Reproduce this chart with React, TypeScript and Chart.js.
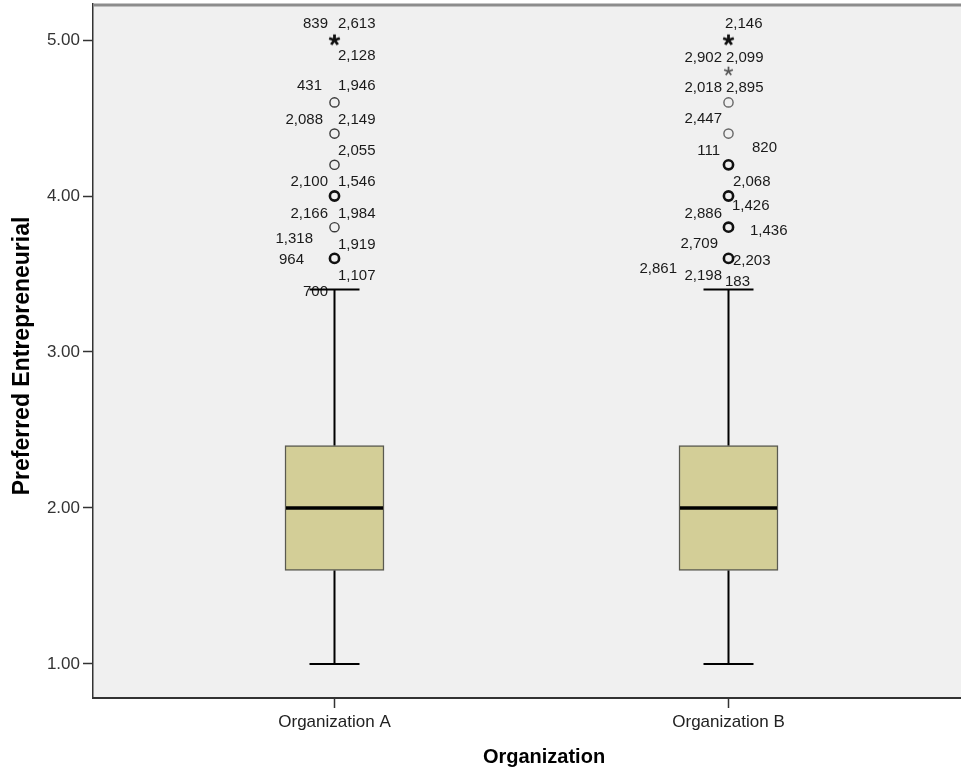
import { useEffect, useRef } from 'react';
import { Chart, registerables } from 'chart.js';

Chart.register(...registerables);

// ---------- data ----------
const categories = ['Organization A', 'Organization B'];
const whiskerLow = [1.0, 1.0];
const q1 = [1.6, 1.6];
const medians = [2.0, 2.0];
const q3 = [2.4, 2.4];
const whiskerHigh = [3.4, 3.4];
const yTickValues = [1, 2, 3, 4, 5];

// outliers (circles) and extremes (stars); "multi" = several cases at the value
const singleOutliersA = [4.6, 4.4, 4.2, 3.8];
const multiOutliersA = [4.0, 3.6];
const singleOutliersB = [4.6, 4.4];
const multiOutliersB = [4.2, 4.0, 3.8, 3.6];
const singleExtremesA: number[] = [];
const multiExtremesA = [5.0];
const singleExtremesB = [4.8];
const multiExtremesB = [5.0];

// case labels
const caseIdsA = ['839', '2,613', '2,128', '431', '1,946', '2,088', '2,149', '2,055', '2,100', '1,546', '2,166', '1,984', '1,318', '1,919', '964', '1,107', '700'];
const caseValuesA = [5.0, 5.0, 5.0, 4.6, 4.6, 4.4, 4.4, 4.2, 4.0, 4.0, 3.8, 3.8, 3.6, 3.6, 3.6, 3.6, 3.4];
const caseIdsB = ['2,146', '2,902', '2,099', '2,018', '2,895', '2,447', '111', '820', '2,068', '1,426', '2,886', '1,436', '2,709', '2,203', '2,861', '2,198', '183'];
const caseValuesB = [5.0, 4.8, 4.8, 4.6, 4.6, 4.4, 4.2, 4.2, 4.0, 4.0, 3.8, 3.8, 3.6, 3.6, 3.6, 3.6, 3.4];

const xTitle = 'Organization';
const yTitle = 'Preferred Entrepreneurial';

// ---------- layout / style ----------
type Align = 'left' | 'right';
// [dx from point, baseline dy from point, text alignment]
const LABEL_LAYOUT_A: [number, number, Align][] = [
  [-6.5, -12, 'right'], [3.5, -12, 'left'], [3.5, 20, 'left'],
  [-12.5, -12.4, 'right'], [3.5, -12.4, 'left'],
  [-11.5, -9.6, 'right'], [3.5, -9.6, 'left'],
  [3.5, -9.8, 'left'],
  [-6.5, -10, 'right'], [3.5, -10, 'left'],
  [-6.5, -9.2, 'right'], [3.5, -9.2, 'left'],
  [-21.5, -15.4, 'right'], [3.5, -9.4, 'left'], [-30.5, 5.6, 'right'], [3.5, 21.6, 'left'],
  [-6.5, 6.4, 'right'],
];
const LABEL_LAYOUT_B: [number, number, Align][] = [
  [-3.5, -12, 'left'],
  [-6.5, -9.2, 'right'], [-2.5, -9.2, 'left'],
  [-6.5, -10.4, 'right'], [-2.5, -10.4, 'left'],
  [-6.5, -10.6, 'right'],
  [-8.5, -9.8, 'right'], [23.5, -12.8, 'left'],
  [4.5, -10, 'left'], [3.5, 14, 'left'],
  [-6.5, -9.2, 'right'], [21.5, 7.8, 'left'],
  [-10.5, -10.4, 'right'], [4.5, 6.6, 'left'], [-51.5, 14.6, 'right'], [-6.5, 21.6, 'right'],
  [-3.5, -3.6, 'left'],
];

const X_MIN = -0.61294;
const X_MAX = 1.59011;
const Y_MIN = 0.78205;
const Y_MAX = 5.23077;

const FONT = '"Liberation Sans", Arial, Helvetica, sans-serif';
const PLOT_BG = '#f0f0f0';
const BOX_FILL = '#d3ce97';
const BOX_EDGE = '#5a5a50';
const CAP_HALF = 25;

function makeStar(size: number, lw: number, color: string): HTMLCanvasElement {
  const c = document.createElement('canvas');
  const s = Math.ceil(size * 2 + lw * 2 + 2);
  c.width = s;
  c.height = s;
  const ctx = c.getContext('2d')!;
  ctx.strokeStyle = color;
  ctx.lineWidth = lw;
  ctx.lineCap = 'butt';
  ctx.translate(s / 2, s / 2);
  for (let i = 0; i < 5; i++) {
    const a = -Math.PI / 2 + (i * 2 * Math.PI) / 5;
    ctx.beginPath();
    ctx.moveTo(0, 0);
    ctx.lineTo(Math.cos(a) * size, Math.sin(a) * size);
    ctx.stroke();
  }
  return c;
}

const extrasPlugin = {
  id: 'boxExtras',
  beforeDraw(chart: any) {
    const { ctx, chartArea: a } = chart;
    ctx.save();
    ctx.fillStyle = PLOT_BG;
    ctx.fillRect(a.left, a.top, a.right - a.left, a.bottom - a.top);
    ctx.restore();
  },
  afterDatasetsDraw(chart: any) {
    const { ctx, chartArea: a } = chart;
    const xs = chart.scales.x;
    const ys = chart.scales.y;
    const boxMeta = chart.getDatasetMeta(0);

    // case labels
    ctx.save();
    ctx.font = `15px ${FONT}`;
    ctx.fillStyle = '#1a1a1a';
    ctx.textBaseline = 'alphabetic';
    const groups: [string[], number[], [number, number, Align][]][] = [
      [caseIdsA, caseValuesA, LABEL_LAYOUT_A],
      [caseIdsB, caseValuesB, LABEL_LAYOUT_B],
    ];
    groups.forEach(([ids, vals, lay], gi) => {
      const cx = xs.getPixelForValue(gi);
      ids.forEach((id, i) => {
        const cy = ys.getPixelForValue(vals[i]);
        const [dx, dy, al] = lay[i];
        ctx.textAlign = al;
        ctx.fillText(id, cx + dx, cy + dy);
      });
    });
    ctx.restore();

    // whiskers, caps, medians
    ctx.save();
    ctx.strokeStyle = '#000';
    categories.forEach((_, i) => {
      const cx = xs.getPixelForValue(i);
      const el = boxMeta.data[i];
      const half = el.width / 2;
      const yLo = ys.getPixelForValue(whiskerLow[i]);
      const yQ1 = ys.getPixelForValue(q1[i]);
      const yQ3 = ys.getPixelForValue(q3[i]);
      const yHi = ys.getPixelForValue(whiskerHigh[i]);
      const yMed = ys.getPixelForValue(medians[i]);
      ctx.lineWidth = 2;
      ctx.beginPath();
      ctx.moveTo(cx, yLo);
      ctx.lineTo(cx, yQ1);
      ctx.moveTo(cx, yQ3);
      ctx.lineTo(cx, yHi);
      ctx.moveTo(cx - CAP_HALF, yLo);
      ctx.lineTo(cx + CAP_HALF, yLo);
      ctx.moveTo(cx - CAP_HALF, yHi);
      ctx.lineTo(cx + CAP_HALF, yHi);
      ctx.stroke();
      ctx.lineWidth = 3.5;
      ctx.beginPath();
      ctx.moveTo(el.x - half + 1, yMed);
      ctx.lineTo(el.x + half - 1, yMed);
      ctx.stroke();
    });
    ctx.restore();

    // top frame line
    ctx.save();
    ctx.strokeStyle = '#8c8c8c';
    ctx.lineWidth = 3;
    ctx.beginPath();
    ctx.moveTo(a.left, a.top + 1);
    ctx.lineTo(a.right, a.top + 1);
    ctx.stroke();
    ctx.restore();
  },
  afterDraw(chart: any) {
    const { ctx } = chart;
    ctx.save();
    ctx.fillStyle = '#000';
    ctx.textAlign = 'center';
    ctx.textBaseline = 'middle';
    ctx.font = `bold 20px ${FONT}`;
    ctx.fillText(xTitle, 544, 757);
    ctx.translate(23, 356);
    ctx.rotate(-Math.PI / 2);
    ctx.font = `bold 23px ${FONT}`;
    ctx.fillText(yTitle, 0, 0);
    ctx.restore();
  },
};

export default function App() {
  const ref = useRef<HTMLCanvasElement>(null);

  useEffect(() => {
    document.body.style.margin = '0';
    const canvas = ref.current!;
    const starBold = makeStar(5.6, 2.8, '#111');
    const starLight = makeStar(4.6, 1.7, '#555');

    const pts = (vals: number[], gi: number) => vals.map((v) => ({ x: gi, y: v }));

    const circleSingle = {
      type: 'scatter' as const,
      pointStyle: 'circle',
      pointRadius: 4.6,
      pointBorderWidth: 1.4,
      pointBorderColor: '#3a3a3a',
      pointBackgroundColor: 'rgba(0,0,0,0)',
    };
    const circleMulti = {
      type: 'scatter' as const,
      pointStyle: 'circle',
      pointRadius: 4.6,
      pointBorderWidth: 2.6,
      pointBorderColor: '#111',
      pointBackgroundColor: 'rgba(0,0,0,0)',
    };

    const tickFont = { family: FONT, size: 17 };

    const chart = new Chart(canvas, {
      type: 'bar',
      data: {
        datasets: [
          {
            type: 'bar',
            data: categories.map((_, i) => ({ x: i, y: [q1[i], q3[i]] })) as any,
            backgroundColor: BOX_FILL,
            borderColor: BOX_EDGE,
            borderWidth: 1.5,
            borderSkipped: false,
            barThickness: 99,
            grouped: false,
          } as any,
          { ...circleSingle, data: pts(singleOutliersA, 0) } as any,
          { ...circleMulti, data: pts(multiOutliersA, 0) } as any,
          { ...circleSingle, pointBorderColor: '#666', data: pts(singleOutliersB, 1) } as any,
          { ...circleMulti, data: pts(multiOutliersB, 1) } as any,
          { type: 'scatter', pointStyle: starLight, data: pts(singleExtremesA, 0) } as any,
          { type: 'scatter', pointStyle: starBold, data: pts(multiExtremesA, 0) } as any,
          { type: 'scatter', pointStyle: starLight, data: pts(singleExtremesB, 1) } as any,
          { type: 'scatter', pointStyle: starBold, data: pts(multiExtremesB, 1) } as any,
        ],
      },
      options: {
        animation: false,
        responsive: false,
        layout: { autoPadding: false, padding: { top: 4, left: 0, right: 0, bottom: 0 } },
        plugins: { legend: { display: false }, tooltip: { enabled: false } },
        scales: {
          x: {
            type: 'linear',
            offset: false,
            min: X_MIN,
            max: X_MAX,
            afterBuildTicks: (s: any) => {
              s.ticks = categories.map((_, i) => ({ value: i }));
            },
            afterFit: (s: any) => {
              s.height = 75;
              s.paddingLeft = 0;
              s.paddingRight = 0;
            },
            ticks: {
              autoSkip: false,
              maxRotation: 0,
              padding: 4,
              color: '#222',
              font: tickFont,
              callback: (v: any) => categories[Number(v)] ?? '',
            },
            grid: { offset: false, drawOnChartArea: false, drawTicks: true, tickLength: 10, tickColor: '#333', tickWidth: 1.5 },
            border: { display: true, color: '#333', width: 2 },
          },
          y: {
            type: 'linear',
            min: Y_MIN,
            max: Y_MAX,
            afterBuildTicks: (s: any) => {
              s.ticks = yTickValues.map((v) => ({ value: v }));
            },
            afterFit: (s: any) => {
              s.width = 93;
              s.paddingTop = 0;
              s.paddingBottom = 0;
            },
            ticks: {
              padding: 3,
              color: '#333',
              font: tickFont,
              callback: (v: any) => Number(v).toFixed(2),
            },
            grid: { drawOnChartArea: false, drawTicks: true, tickLength: 10, tickColor: '#333', tickWidth: 1.5 },
            border: { display: true, color: '#333', width: 1.5 },
          },
        },
      },
      plugins: [extrasPlugin],
    } as any);

    return () => chart.destroy();
  }, []);

  return (
    <div style={{ width: 961, height: 773 }}>
      <canvas ref={ref} width={961} height={773} style={{ display: 'block' }} />
    </div>
  );
}
